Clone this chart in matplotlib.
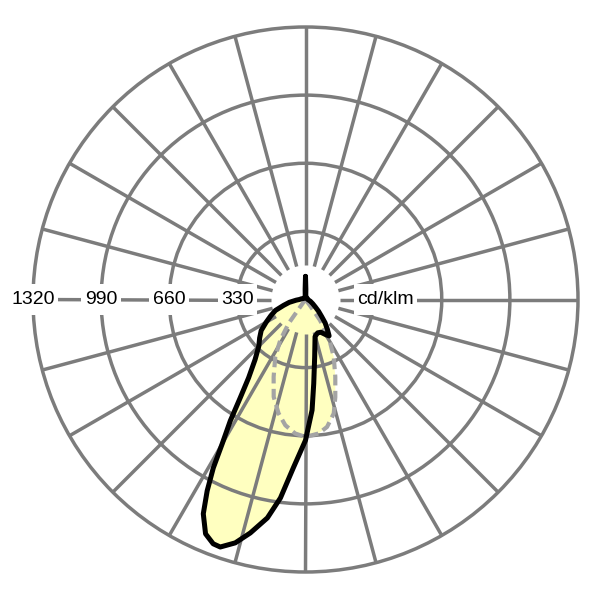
import numpy as np
import matplotlib
matplotlib.use("Agg")
import matplotlib.pyplot as plt
from matplotlib.patches import Circle, Rectangle, Polygon

plt.rcParams['font.family'] = ['Liberation Sans', 'DejaVu Sans']

# ---------------- data ----------------
ring_values = [330, 660, 990, 1320]
ring_labels = ['330', '660', '990', '1320']
unit_label = 'cd/klm'
spoke_step_deg = 15

# gamma: 0 = straight down, positive towards the right side
solid_gamma = [-180, -178, -176, -170, -150, -120, -100, -90, -86, -80, -75, -70,
               -65, -60, -55, -50, -45, -40, -36, -33.6, -31.8, -30, -28.7,
               -27.2, -25.5, -23.1, -20.7, -19, -16.1, -13.3, -9.9, -7.2, -4.1,
               0, 3.4, 5.6, 9.1, 14.5, 20, 25, 30.8, 33, 36.4, 40, 43.3, 48,
               52.8, 60, 70, 80, 95, 120, 150, 170, 176, 178, 180]
solid_value = [112, 50, 20, 12, 10, 10, 20, 30, 45, 80, 110, 155,
               185, 220, 262, 290, 320, 380, 469, 571, 691, 807, 930,
               1042, 1150, 1234, 1265, 1268, 1227, 1162, 1074, 969, 816,
               682, 537, 409, 281, 185, 172, 175, 201, 210, 178, 148, 115, 85,
               60, 40, 25, 15, 10, 10, 10, 12, 20, 50, 112]

dashed_gamma = [-40, -37, -35.8, -35.2, -31.9, -27.8, -22.4, -18.1, -13.3, -9.1,
                -4.4, 0, 5.6, 9.6, 13.9, 17, 21.1, 26.2, 29.5, 32.5, 35, 36.5, 38]
dashed_value = [0, 10, 43, 141, 231, 314, 405, 496, 567, 617,
                651, 666, 652, 626, 569, 494, 401, 310, 244, 190, 120, 40, 0]

# ---------------- figure ----------------
fig = plt.figure(figsize=(6, 6), dpi=100)
ax = fig.add_axes([0, 0, 1, 1])
ax.axis('off')
k = 1320 / 272.5          # cd/klm per pixel
cx, cy = 305.5, 299.5     # centre in pixels (from top-left)
ax.set_xlim(-cx * k, (600 - cx) * k)
ax.set_ylim(-(600 - cy) * k, cy * k)

grid_c = '#7c7c7c'
grid_lw = 2.5
fill_c = '#ffffc0'


def to_xy(g, v):
    g = np.radians(np.asarray(g, float))
    v = np.asarray(v, float)
    return v * np.sin(g), -v * np.cos(g)


sx, sy = to_xy(solid_gamma, solid_value)
dx, dy = to_xy(dashed_gamma, dashed_value)

# fills
ax.add_patch(Polygon(np.column_stack([sx, sy]), closed=True, fc=fill_c, ec='none', zorder=1))
ax.add_patch(Polygon(np.column_stack([np.r_[dx, 0], np.r_[dy, 0]]), closed=True,
                     fc=fill_c, ec='none', zorder=1))

# grid
rmax = ring_values[-1]
rmin = rmax / 8
for r in ring_values:
    ax.add_patch(Circle((0, 0), r, fill=False, ec=grid_c, lw=grid_lw, zorder=2))
for a in np.arange(0, 360, spoke_step_deg):
    t = np.radians(a)
    ax.plot([rmin * np.cos(t), rmax * np.cos(t)], [rmin * np.sin(t), rmax * np.sin(t)],
            color=grid_c, lw=grid_lw, solid_capstyle='butt', zorder=2)

# labels with white boxes
texts = []
for r, lab in zip(ring_values, ring_labels):
    texts.append(ax.text(-r, 0, lab, ha='center', va='center', fontsize=14,
                         color='black', zorder=4))
texts.append(ax.text(80 * k, 0, unit_label, ha='center',
                     va='center', fontsize=14, color='black', zorder=4))

fig.canvas.draw()
renderer = fig.canvas.get_renderer()
inv = ax.transData.inverted()
for t in texts:
    bb = t.get_window_extent(renderer)
    (x0, _), (x1, _) = inv.transform([(bb.x0, bb.y0), (bb.x1, bb.y1)])
    padx = 3.5 * k
    h = 31 * k
    ax.add_patch(Rectangle((x0 - padx, -h / 2), (x1 - x0) + 2 * padx, h,
                           fc='white', ec='none', zorder=3))

# curves
ax.plot(dx, dy, color='#a4a4a4', lw=3.0, linestyle=(0, (2.6, 1.3)),
        solid_joinstyle='round', zorder=5)
ax.plot(np.r_[sx, sx[0]], np.r_[sy, sy[0]], color='black', lw=3.6,
        solid_joinstyle='round', solid_capstyle='round', zorder=6)

fig.savefig('out.png', dpi=100, facecolor='white')
